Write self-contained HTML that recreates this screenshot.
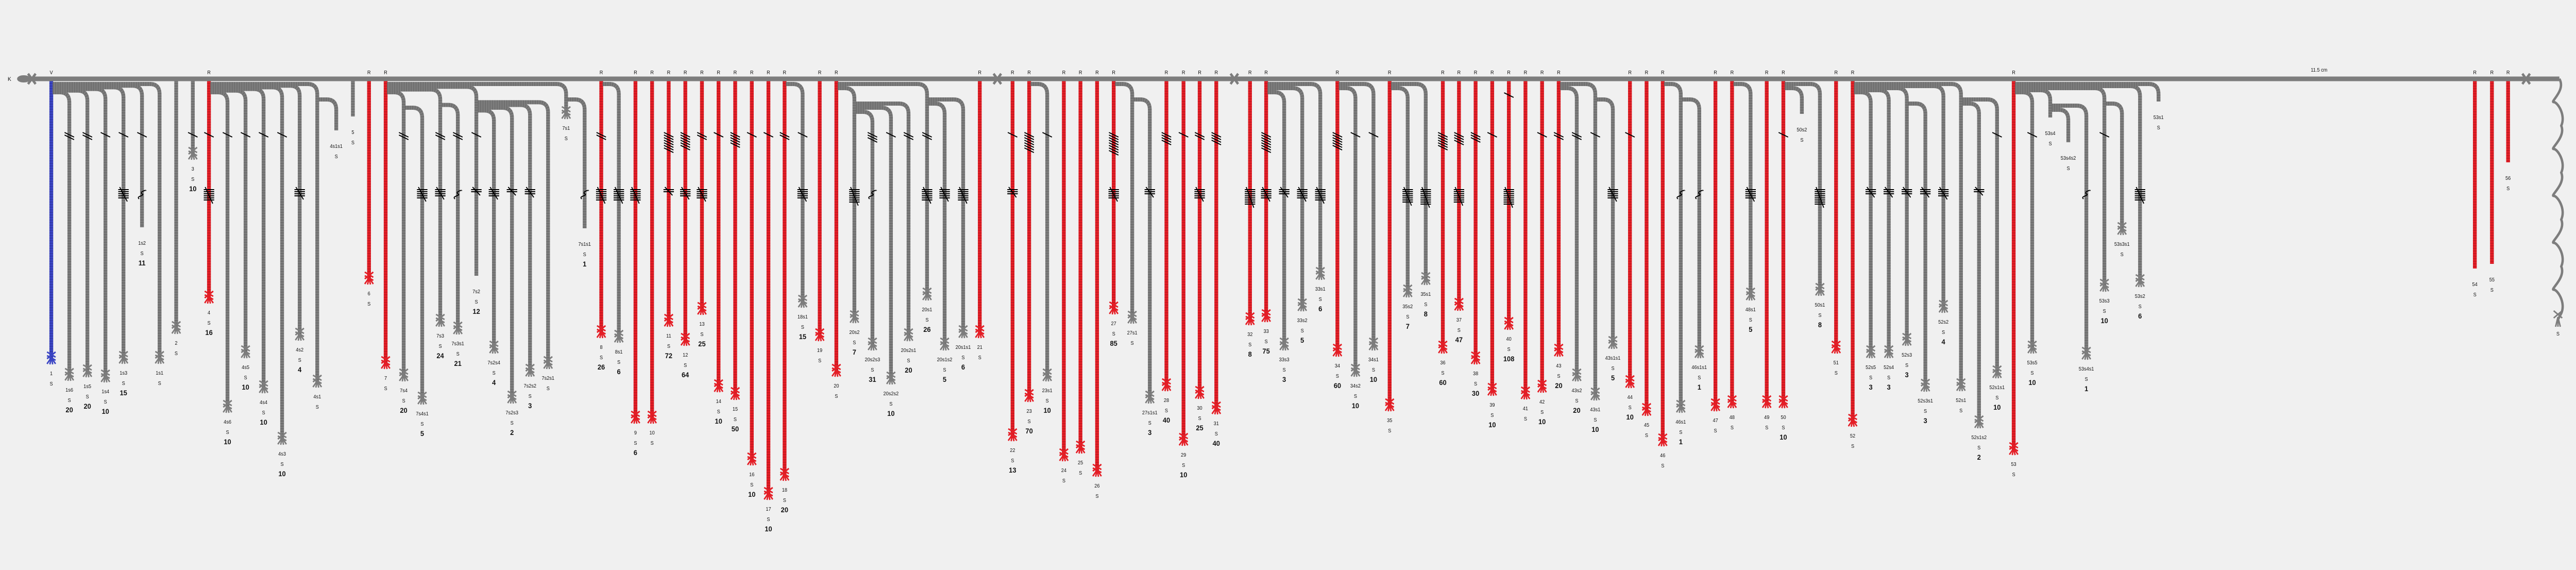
<!DOCTYPE html>
<html><head><meta charset="utf-8"><title>Quipu diagram</title>
<style>
html,body{margin:0;padding:0;background:#f0f0f0;width:100vw;height:100vh;overflow:hidden;}
svg{display:block;overflow:hidden;width:100vw;height:100vh;}
text{font-family:"Liberation Sans",sans-serif;fill:#111;}
</style></head>
<body>
<svg id="chart" viewBox="0 0 5424 1106" preserveAspectRatio="none" xmlns="http://www.w3.org/2000/svg">
<rect width="5424" height="1106" fill="#f0f0f0"/>
<g id="cords"></g>
<g id="mainGroup"></g>
<g id="marks"></g>
<g id="labels"></g>
</svg>
<script>
// cord names (parent derived from name), positions along main cord, end depths, colours, values, cut flags
const cordNames = ["1","1s6","1s5","1s4","1s3","1s2","1s1","2","3","4","4s6","4s5","4s4","4s3","4s2","4s1","4s1s1","5","6","7","7s4","7s4s1","7s3","7s3s1","7s2","7s2s4","7s2s3","7s2s2","7s2s1","7s1","7s1s1","8","8s1","9","10","11","12","13","14","15","16","17","18","18s1","19","20","20s2","20s2s3","20s2s2","20s2s1","20s1","20s1s2","20s1s1","21","22","23","23s1","24","25","26","27","27s1","27s1s1","28","29","30","31","32","33","33s3","33s2","33s1","34","34s2","34s1","35","35s2","35s1","36","37","38","39","40","41","42","43","43s2","43s1","43s1s1","44","45","46","46s1","46s1s1","47","48","48s1","49","50","50s2","50s1","51","52","52s5","52s4","52s3","52s3s1","52s2","52s1","52s1s2","52s1s1","53","53s5","53s4","53s4s2","53s4s1","53s3","53s3s1","53s2","53s1","54","55","56"];
const cordX = [108,146,184,222,260,299,336,371,406,440,479,517,555,594,631,668,708,743,777,812,850,889,927,964,1003,1040,1078,1116,1154,1192,1231,1266,1303,1338,1373,1408,1443,1478,1513,1548,1583,1618,1652,1690,1726,1761,1799,1837,1876,1913,1952,1989,2028,2063,2132,2167,2205,2240,2275,2310,2345,2384,2421,2456,2492,2526,2561,2632,2666,2704,2742,2780,2816,2854,2892,2926,2964,3002,3038,3072,3107,3142,3177,3212,3247,3282,3320,3359,3396,3432,3467,3501,3539,3578,3612,3647,3686,3720,3755,3794,3832,3866,3901,3939,3977,4015,4054,4092,4129,4167,4205,4240,4279,4317,4355,4393,4431,4468,4506,4545,5211,5247,5281];
const cordEnd = [706,738,731,741,705,441,705,647,309,588,800,694,762,862,660,751,253,226,551,715,739,784,633,648,535,685,782,730,715,230,443,655,664,821,821,633,670,610,760,775,902,969,932,596,661,730,626,679,745,661,582,679,655,655,855,779,739,894,879,924,609,627,782,758,864,773,803,630,624,679,603,542,691,730,679,797,576,552,685,602,706,767,639,774,761,691,739,776,676,752,806,865,800,694,797,791,582,791,791,221,573,685,827,694,694,670,759,606,758,830,733,882,685,228,276,697,565,455,556,197,521,512,315];
const cordColor = ["b","g","g","g","g","g","g","g","g","r","g","g","g","g","g","g","g","g","r","r","g","g","g","g","g","g","g","g","g","g","g","r","g","r","r","r","r","r","r","r","r","r","r","g","r","r","g","g","g","g","g","g","g","r","r","r","g","r","r","r","r","g","g","r","r","r","r","r","r","g","g","g","r","g","g","r","g","g","r","r","r","r","r","r","r","r","g","g","g","r","r","r","g","g","r","r","g","r","r","g","g","r","r","g","g","g","g","g","g","g","g","r","g","g","g","g","g","g","g","g","r","r","r"];
const cordValue = [null,20,20,10,15,11,null,null,10,16,10,10,10,10,4,null,null,null,null,null,20,5,24,21,12,4,2,3,null,null,1,26,6,6,null,72,64,25,10,50,10,10,20,15,null,null,7,31,10,20,26,5,6,null,13,70,10,null,null,null,85,null,3,40,10,25,40,8,75,3,5,6,60,10,10,null,7,8,60,47,30,10,108,null,10,20,20,10,5,10,null,null,1,1,null,null,5,null,10,null,8,null,null,3,3,3,3,4,null,2,10,null,10,null,null,1,10,null,6,null,null,null,null];
const cutNames = ["1s2","7s2","7s1s1","4s1s1","5","50s2","53s4","53s4s2","53s1","54","55","56"];
const mainKnotX = [67,2100,2599,5319];
const mainStart = 40, mainEnd = 5389, mainY = 153;

const NS = "http://www.w3.org/2000/svg";
const COL = {g:"#7d7d7d", r:"#e41e26", b:"#3b45c4"};
const gC = document.getElementById("cords"), gM = document.getElementById("mainGroup"),
      gK = document.getElementById("marks"), gL = document.getElementById("labels");
function mk(tag, attrs, parent){const e=document.createElementNS(NS,tag);for(const k in attrs)e.setAttribute(k,attrs[k]);parent.appendChild(e);return e;}

const mc = mk("line",{x1:mainStart,y1:mainY,x2:mainEnd,y2:mainY,stroke:"#7d7d7d","stroke-width":9},gM);


const loop = mk("ellipse",{cx:mainStart+10,cy:mainY,rx:12,ry:5,fill:"none",stroke:"#7d7d7d","stroke-width":4},gM);


mainKnotX.forEach(function(kx){
  const k = mk("path",{d:`M${kx-8},${mainY-10} L${kx+8},${mainY+10} M${kx+8},${mainY-10} L${kx-8},${mainY+10}`,stroke:"#7d7d7d","stroke-width":5,fill:"none"},gM);
  
  
});
const kt = mk("text",{x:20,y:157,"font-size":11,"text-anchor":"middle"},gL); kt.textContent="K";


const lenT = mk("text",{x:4883,y:139,"font-size":10,"text-anchor":"middle"},gL); lenT.textContent="11.5 cm";



let wd = `M${mainEnd},${mainY}`;
for(let i=0;i<5;i++){const y0=mainY+i*91;wd+=` C${mainEnd+14},${y0+22} ${mainEnd-20},${y0+45} ${mainEnd-12},${y0+45} C${mainEnd-4},${y0+45} ${mainEnd+14},${y0+70} ${mainEnd+4},${y0+91}`;}
wd += ` L${mainEnd-3},620`;
const wave = mk("path",{d:wd,fill:"none",stroke:"#7d7d7d","stroke-width":5},gM);


mk("path",{d:`M${mainEnd-12},603 L${mainEnd+6},617 M${mainEnd+6},603 L${mainEnd-12},617 M${mainEnd-3},615 L${mainEnd-8},634 M${mainEnd-3},615 L${mainEnd+2},634 M${mainEnd-3},615 L${mainEnd-3},634`,stroke:"#7d7d7d","stroke-width":3,fill:"none"},gM);
const ws = mk("text",{x:mainEnd-3,y:651,"font-size":10,"text-anchor":"middle"},gL); ws.textContent="S";



const idx = {}; cordNames.forEach((n,i)=>idx[n]=i);
function parentOf(n){const m=n.match(/^(.*)s\d+$/);return m?idx[m[1]]:-1;}
const vStart = new Array(cordNames.length), hY = new Array(cordNames.length), par = cordNames.map(parentOf);
const R = 20;
cordNames.forEach((n,i)=>{ if(par[i]<0){vStart[i]=mainY+4;} });
for(let pass=0;pass<4;pass++){
  cordNames.forEach((n,i)=>{
    if(vStart[i]===undefined) return;
    const kids = cordNames.map((m,j)=>j).filter(j=>par[j]===i && vStart[j]===undefined);
    if(!kids.length) return;
    kids.sort((a,b)=>cordX[b]-cordX[a]);
    const step = kids.length>1 ? Math.min(8, 16/(kids.length-1)) : 0;
    const first = par[i]<0 ? vStart[i]+6 : vStart[i]+10;
    kids.forEach((j,r)=>{hY[j]=first+r*step; vStart[j]=hY[j]+R;});
  });
}

cordNames.forEach(function(n,i){
  const x=cordX[i], end=cordEnd[i], c=COL[cordColor[i]], p=par[i];
  const cut = cutNames.indexOf(n)>=0;
  let d;
  if(p<0){ d=`M${x},${mainY+3} L${x},${end-(cut?0:6)}`; }
  else { const px=cordX[p]+3, hy=hY[i];
    d=`M${px},${hy} L${x-R},${hy} Q${x},${hy} ${x},${hy+R} L${x},${end-(cut?0:6)}`; }
  const g = mk("g",{},gC);
  
  
  mk("path",{d:d,fill:"none",stroke:c,"stroke-width":8,"stroke-linejoin":"round"},g);
  mk("path",{d:d,fill:"none",stroke:"rgba(0,0,0,0.12)","stroke-width":8,"stroke-dasharray":"2 3"},g);
  if(!cut){
    const ky=end-16;
    mk("path",{d:`M${x-9},${ky-7} L${x+9},${ky+3} M${x-9},${ky} L${x+9},${ky+9} M${x+9},${ky-7} L${x-9},${ky+6} M${x},${ky+4} L${x-9},${end} M${x},${ky+4} L${x-3},${end+1} M${x},${ky+4} L${x+3},${end+1} M${x},${ky+4} L${x+9},${end}`,stroke:c,"stroke-width":3,fill:"none"},g);
  }
  if(p<0 && cordColor[i]!=="g"){
    const t=mk("text",{x:x,y:mainY-9,"font-size":10,"text-anchor":"middle"},gL);
    t.textContent = cordColor[i]==="b" ? "V" : "R";
    
    
  }
  const ly = end + (cut?34:22);
  const t1=mk("text",{x:x,y:ly,"font-size":10,"text-anchor":"middle"},gL); t1.textContent=n;
  
  
  const t2=mk("text",{x:x,y:ly+20,"font-size":10,"text-anchor":"middle"},gL); t2.textContent="S";
  
  
  const v=cordValue[i];
  if(v!==null){
    const t3=mk("text",{x:x,y:ly+40,"font-size":14,"font-weight":"bold","text-anchor":"middle"},gL); t3.textContent=String(v);
    
    
    const top = vStart[i];
    const kg = mk("g",{stroke:"#000","stroke-width":2,fill:"none"},gK);
    
    
    const h=Math.floor(v/100), te=Math.floor(v/10)%10, u=v%10;
    function singles(cnt,y0){for(let k=0;k<cnt;k++){const y=y0+k*5;mk("line",{x1:x-10,y1:y-5,x2:x+10,y2:y+4},kg);}}
    if(h>0) singles(h, Math.max(top+15,185));
    if(te>0) singles(te, Math.max(top+25,262));
    if(u===1){ const y=Math.max(top+40,380); mk("path",{d:`M${x-6},${y+6} C${x-14},${y} ${x+8},${y} ${x},${y-4} C${x-6},${y-8} ${x+10},${y-12} ${x+8},${y-10}`},kg); }
    else if(u>1){ const y0=Math.max(top+45,368); for(let k=0;k<u;k++){const y=y0+k*4;mk("line",{x1:x-11,y1:y,x2:x+11,y2:y},kg);} mk("line",{x1:x-8,y1:y0-5,x2:x+8,y2:y0+u*4+3},kg); }
  }
});
</script>
</body></html>
